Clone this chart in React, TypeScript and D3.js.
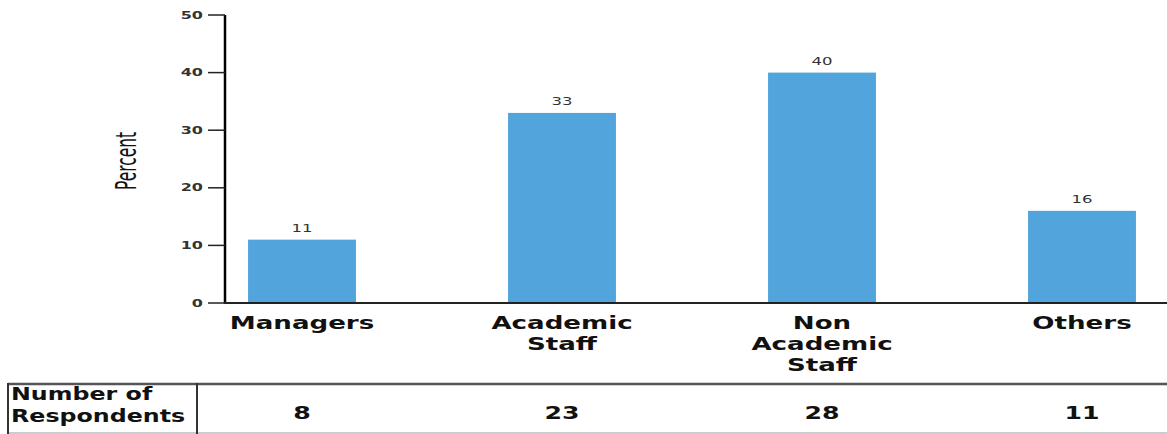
import React from "react";
import * as d3 from "d3";

const categories = ["Managers", "Academic Staff", "Non Academic Staff", "Others"];
const categoryLines = [["Managers"], ["Academic", "Staff"], ["Non", "Academic", "Staff"], ["Others"]];
const percents = [11, 33, 40, 16];
const respondents = [8, 23, 28, 11];
const yTicks = [0, 10, 20, 30, 40, 50];
const tableHeader = ["Number of", "Respondents"];

const W = 1167;
const H = 434;
const SX = 1.45;
const BAR = "#52a5dc";

function Stretch({ x, y, sx = SX, anchor = "middle", size, weight = "normal", fill = "#222", children }: any) {
  return (
    <g transform={`translate(${x},${y}) scale(${sx},1)`}>
      <text textAnchor={anchor} fontSize={size} fontWeight={weight} fill={fill} fontFamily="DejaVu Sans">
        {children}
      </text>
    </g>
  );
}

export default function App() {
  const y = d3.scaleLinear().domain([0, 50]).range([303, 15]);
  const x = d3.scaleBand().domain(categories).range([172, 1212]).paddingInner(0.585).paddingOuter(0.2925);
  const axisX = 225;
  const bw = x.bandwidth();

  return (
    <svg width={W} height={H} style={{ position: "absolute", left: 0, top: 0, background: "#fff" }}>
      {categories.map((c, i) => (
        <g key={c}>
          <rect x={x(c)!} y={y(percents[i])} width={bw} height={y(0) - y(percents[i])} fill={BAR} />
          <Stretch x={x(c)! + bw / 2} y={y(percents[i]) - 8} size={11} sx={1.5} fill="#333">
            {percents[i]}
          </Stretch>
          {categoryLines[i].map((ln, j) => (
            <Stretch key={j} x={x(c)! + bw / 2} y={329 + j * 21} size={18} weight="bold" fill="#111">
              {ln}
            </Stretch>
          ))}
          <Stretch x={x(c)! + bw / 2} y={419} size={18} weight="bold" sx={1.4} fill="#111">
            {respondents[i]}
          </Stretch>
        </g>
      ))}
      <line x1={axisX} x2={axisX} y1={y(50)} y2={y(0) + 1} stroke="#000" strokeWidth={2.5} />
      <line x1={axisX - 1} x2={W} y1={y(0)} y2={y(0)} stroke="#222" strokeWidth={2} />
      {yTicks.map((t) => (
        <g key={t}>
          <line x1={208} x2={axisX} y1={y(t)} y2={y(t)} stroke="#222" strokeWidth={1.5} />
          <Stretch x={203} y={y(t) + 3.5} size={10} weight="bold" sx={1.6} anchor="end" fill="#333">
            {t}
          </Stretch>
        </g>
      ))}
      <text
        transform={`translate(136,161) rotate(-90)`}
        textAnchor="middle"
        fontSize={28}
        fontFamily="DejaVu Sans"
        fill="#111"
        textLength={58}
        lengthAdjust="spacingAndGlyphs"
      >
        Percent
      </text>
      <line x1={8} x2={W} y1={384} y2={384} stroke="#555" strokeWidth={2.5} />
      <line x1={8} x2={W} y1={433} y2={433} stroke="#bbb" strokeWidth={1.5} />
      <line x1={8} x2={8} y1={383} y2={434} stroke="#333" strokeWidth={2} />
      <line x1={197} x2={197} y1={383} y2={434} stroke="#333" strokeWidth={2} />
      {tableHeader.map((t, j) => (
        <Stretch key={t} x={11} y={400 + j * 22} size={18} weight="bold" sx={1.32} anchor="start" fill="#111">
          {t}
        </Stretch>
      ))}
    </svg>
  );
}
